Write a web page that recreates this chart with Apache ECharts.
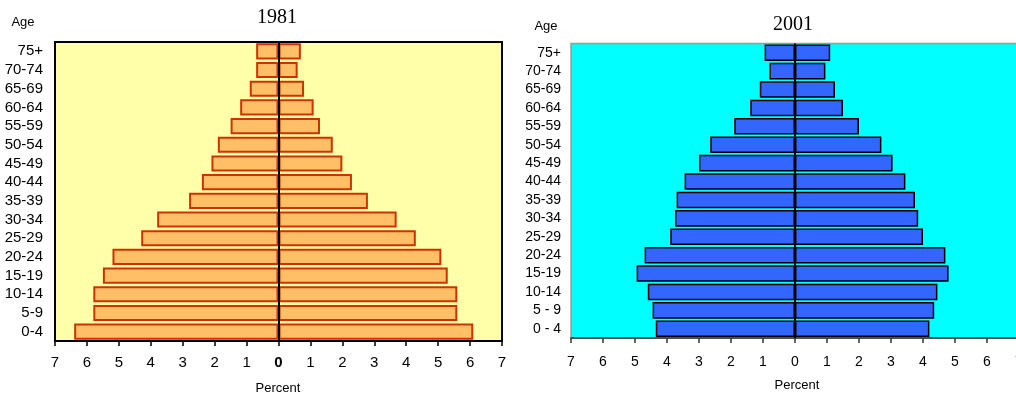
<!DOCTYPE html>
<html>
<head>
<meta charset="utf-8">
<script src="https://cdn.jsdelivr.net/npm/echarts@6/dist/echarts.min.js"></script>
<style>
html,body{margin:0;padding:0;background:#fff;overflow:hidden;width:1016px;height:396px;}
#chart{width:1030px;height:396px;}
</style>
</head>
<body>
<div id="chart"></div>
<script>
// Age groups (bottom to top)
const ages1981 = ['0-4','5-9','10-14','15-19','20-24','25-29','30-34','35-39','40-44','45-49','50-54','55-59','60-64','65-69','70-74','75+'];
const ages2001 = ['0 - 4','5 - 9','10-14','15-19','20-24','25-29','30-34','35-39','40-44','45-49','50-54','55-59','60-64','65-69','70-74','75+'];
// Percent values, left half and right half of each pyramid
const left1981  = [6.4, 5.8, 5.8, 5.5, 5.2, 4.3, 3.8, 2.8, 2.4, 2.1, 1.9, 1.5, 1.2, 0.9, 0.7, 0.7];
const right1981 = [6.1, 5.6, 5.6, 5.3, 5.1, 4.3, 3.7, 2.8, 2.3, 2.0, 1.7, 1.3, 1.1, 0.8, 0.6, 0.7];
const left2001  = [4.35, 4.45, 4.6, 4.95, 4.7, 3.9, 3.75, 3.7, 3.45, 3.0, 2.65, 1.9, 1.4, 1.1, 0.8, 0.95];
const right2001 = [4.2, 4.35, 4.45, 4.8, 4.7, 4.0, 3.85, 3.75, 3.45, 3.05, 2.7, 2.0, 1.5, 1.25, 0.95, 1.1];
const axisMin = -7, axisMax = 7, axisStep = 1;

const chart = echarts.init(document.getElementById('chart'));
const neg = a => a.map(v => -v);
const absFmt = v => String(Math.abs(v));

const zeroLine = {
  silent: true, symbol: ['none','none'], label: {show:false},
  lineStyle: {color:'#000', width:2, type:'solid'},
  data: [{xAxis: 0}]
};

const style1981 = {color:'#FFBF66', borderColor:'#CC3300', borderWidth:2};
const style2001 = {color:'#3366FF', borderColor:'#000000', borderWidth:1.5};

chart.setOption({
  animation: false,
  textStyle: {fontFamily: 'Liberation Sans, Arial, sans-serif'},
  grid: [
    {left:55, top:42, width:447, height:299, show:true, backgroundColor:'#FFFFAA', borderColor:'#000', borderWidth:2},
    {left:571, top:43.5, width:448, height:294.5, show:true, backgroundColor:'#00FFFF', borderColor:'#999', borderWidth:1.5}
  ],
  xAxis: [
    {gridIndex:0, type:'value', min:axisMin, max:axisMax, interval:axisStep,
     splitLine:{show:false},
     axisLine:{show:true, onZero:false, lineStyle:{color:'#000', width:2}},
     axisTick:{show:true, length:5, lineStyle:{color:'#000', width:1.5}},
     axisLabel:{margin:14, fontSize:15, color:'#000',
       formatter: v => v === 0 ? '{b|0}' : absFmt(v),
       rich:{b:{fontWeight:'bold', fontSize:15, color:'#000'}}}},
    {gridIndex:1, type:'value', min:axisMin, max:axisMax, interval:axisStep,
     splitLine:{show:false},
     axisLine:{show:true, onZero:false, lineStyle:{color:'#333', width:1.5}},
     axisTick:{show:true, length:5, lineStyle:{color:'#333', width:1.5}},
     axisLabel:{margin:17, fontSize:14, color:'#000', formatter: absFmt}}
  ],
  yAxis: [
    {gridIndex:0, type:'category', data:ages1981,
     axisLine:{show:false}, axisTick:{show:false}, splitLine:{show:false},
     axisLabel:{interval:0, margin:12, fontSize:15, color:'#000'}},
    {gridIndex:1, type:'category', data:ages2001,
     axisLine:{show:false}, axisTick:{show:false}, splitLine:{show:false},
     axisLabel:{interval:0, margin:10, fontSize:14, color:'#000'}}
  ],
  series: [
    {type:'bar', xAxisIndex:0, yAxisIndex:0, stack:'a', data:neg(left1981), barCategoryGap:'14%', itemStyle:style1981, markLine:zeroLine},
    {type:'bar', xAxisIndex:0, yAxisIndex:0, stack:'a', data:right1981, barCategoryGap:'14%', itemStyle:style1981},
    {type:'bar', xAxisIndex:1, yAxisIndex:1, stack:'b', data:neg(left2001), barCategoryGap:'10%', itemStyle:style2001, markLine:zeroLine},
    {type:'bar', xAxisIndex:1, yAxisIndex:1, stack:'b', data:right2001, barCategoryGap:'10%', itemStyle:style2001}
  ],
  graphic: [
    {type:'text', x:277, y:18, style:{text:'1981', fontFamily:'Liberation Serif, Times New Roman, serif', fontSize:20, fill:'#000', textAlign:'center', textVerticalAlign:'middle'}},
    {type:'text', x:793, y:25, style:{text:'2001', fontFamily:'Liberation Serif, Times New Roman, serif', fontSize:20, fill:'#000', textAlign:'center', textVerticalAlign:'middle'}},
    {type:'text', x:23, y:22, style:{text:'Age', fontFamily:'Liberation Sans, Arial, sans-serif', fontSize:13, fill:'#000', textAlign:'center', textVerticalAlign:'middle'}},
    {type:'text', x:546, y:26, style:{text:'Age', fontFamily:'Liberation Sans, Arial, sans-serif', fontSize:13, fill:'#000', textAlign:'center', textVerticalAlign:'middle'}},
    {type:'text', x:278, y:388, style:{text:'Percent', fontFamily:'Liberation Sans, Arial, sans-serif', fontSize:13, fill:'#000', textAlign:'center', textVerticalAlign:'middle'}},
    {type:'text', x:797, y:385, style:{text:'Percent', fontFamily:'Liberation Sans, Arial, sans-serif', fontSize:13, fill:'#000', textAlign:'center', textVerticalAlign:'middle'}}
  ]
});
</script>
</body>
</html>
